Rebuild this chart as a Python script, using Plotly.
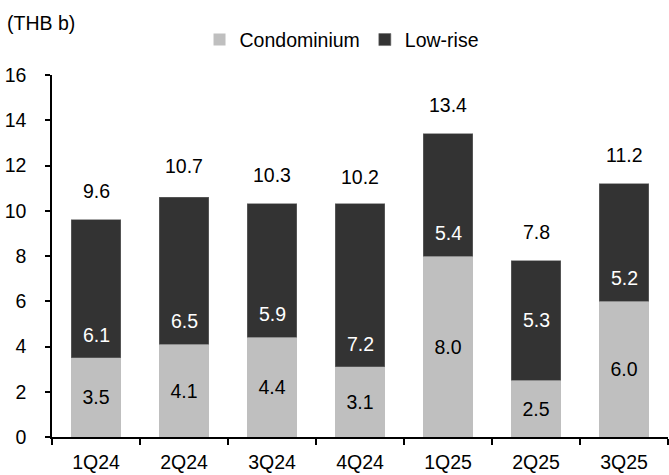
import plotly.graph_objects as go

categories = ["1Q24", "2Q24", "3Q24", "4Q24", "1Q25", "2Q25", "3Q25"]
condo = [3.5, 4.1, 4.4, 3.1, 8.0, 2.5, 6.0]
lowrise = [6.1, 6.5, 5.9, 7.2, 5.4, 5.3, 5.2]
totals = [9.6, 10.7, 10.3, 10.2, 13.4, 7.8, 11.2]
lr_label_mode = ["base", "base", "base", "base", "base", "mid", "base"]
y_ticks = [0, 2, 4, 6, 8, 10, 12, 14, 16]

FONT = "Liberation Sans, Arial, sans-serif"
FS = 19.5

fig = go.Figure()
fig.add_trace(go.Bar(
    x=categories, y=condo, name="Condominium",
    marker=dict(color="#bfbfbf", line=dict(width=0)),
    text=[f"{v:.1f}" for v in condo], textposition="inside",
    insidetextanchor="middle", textangle=0, constraintext="none",
    insidetextfont=dict(color="black", size=FS, family=FONT),
    hoverinfo="skip",
))
fig.add_trace(go.Bar(
    x=categories, y=lowrise, name="Low-rise",
    marker=dict(color="#333333", line=dict(width=0.6, color="#6a6a6a")),
    hoverinfo="skip",
))

annotations = []
for i, c in enumerate(categories):
    annotations.append(dict(x=c, y=totals[i], text=f"{totals[i]:.1f}", showarrow=False,
                            yanchor="middle", yshift=29,
                            font=dict(size=FS, color="black", family=FONT)))
    if lr_label_mode[i] == "mid":
        y, ys = condo[i] + lowrise[i] / 2, 0
    else:
        y, ys = condo[i], 23
    annotations.append(dict(x=c, y=y, text=f"{lowrise[i]:.1f}", showarrow=False,
                            yanchor="middle", yshift=ys,
                            font=dict(size=FS, color="white", family=FONT)))

fig.update_layout(
    width=669, height=475,
    margin=dict(l=52, r=1, t=75, b=38),
    barmode="stack", bargap=0.44,
    plot_bgcolor="white", paper_bgcolor="white",
    font=dict(family=FONT, size=FS, color="black"),
    title=dict(text="(THB b)", x=7 / 669, xref="container", xanchor="left",
               y=1 - 23 / 475, yref="container", yanchor="middle",
               font=dict(size=FS, color="black", family=FONT)),
    legend=dict(orientation="h", x=0.47, xanchor="center", y=1.097, yanchor="middle",
                font=dict(size=FS, family=FONT), itemwidth=30, traceorder="normal",
                bgcolor="rgba(0,0,0,0)"),
    annotations=annotations,
    xaxis=dict(type="category", showline=True, linecolor="black", linewidth=1.5,
               ticks="outside", tickson="boundaries", ticklen=6, tickcolor="black",
               tickwidth=1.5, showgrid=False, ticklabelstandoff=7,
               tickfont=dict(size=FS, family=FONT)),
    yaxis=dict(range=[0, 16], tickvals=y_ticks, showline=True, linecolor="black",
               linewidth=1.5, ticks="outside", ticklen=5, tickcolor="black", tickwidth=1.5,
               showgrid=False, zeroline=False, ticklabelstandoff=15,
               tickfont=dict(size=FS, family=FONT)),
)

fig.write_html("out.html")
